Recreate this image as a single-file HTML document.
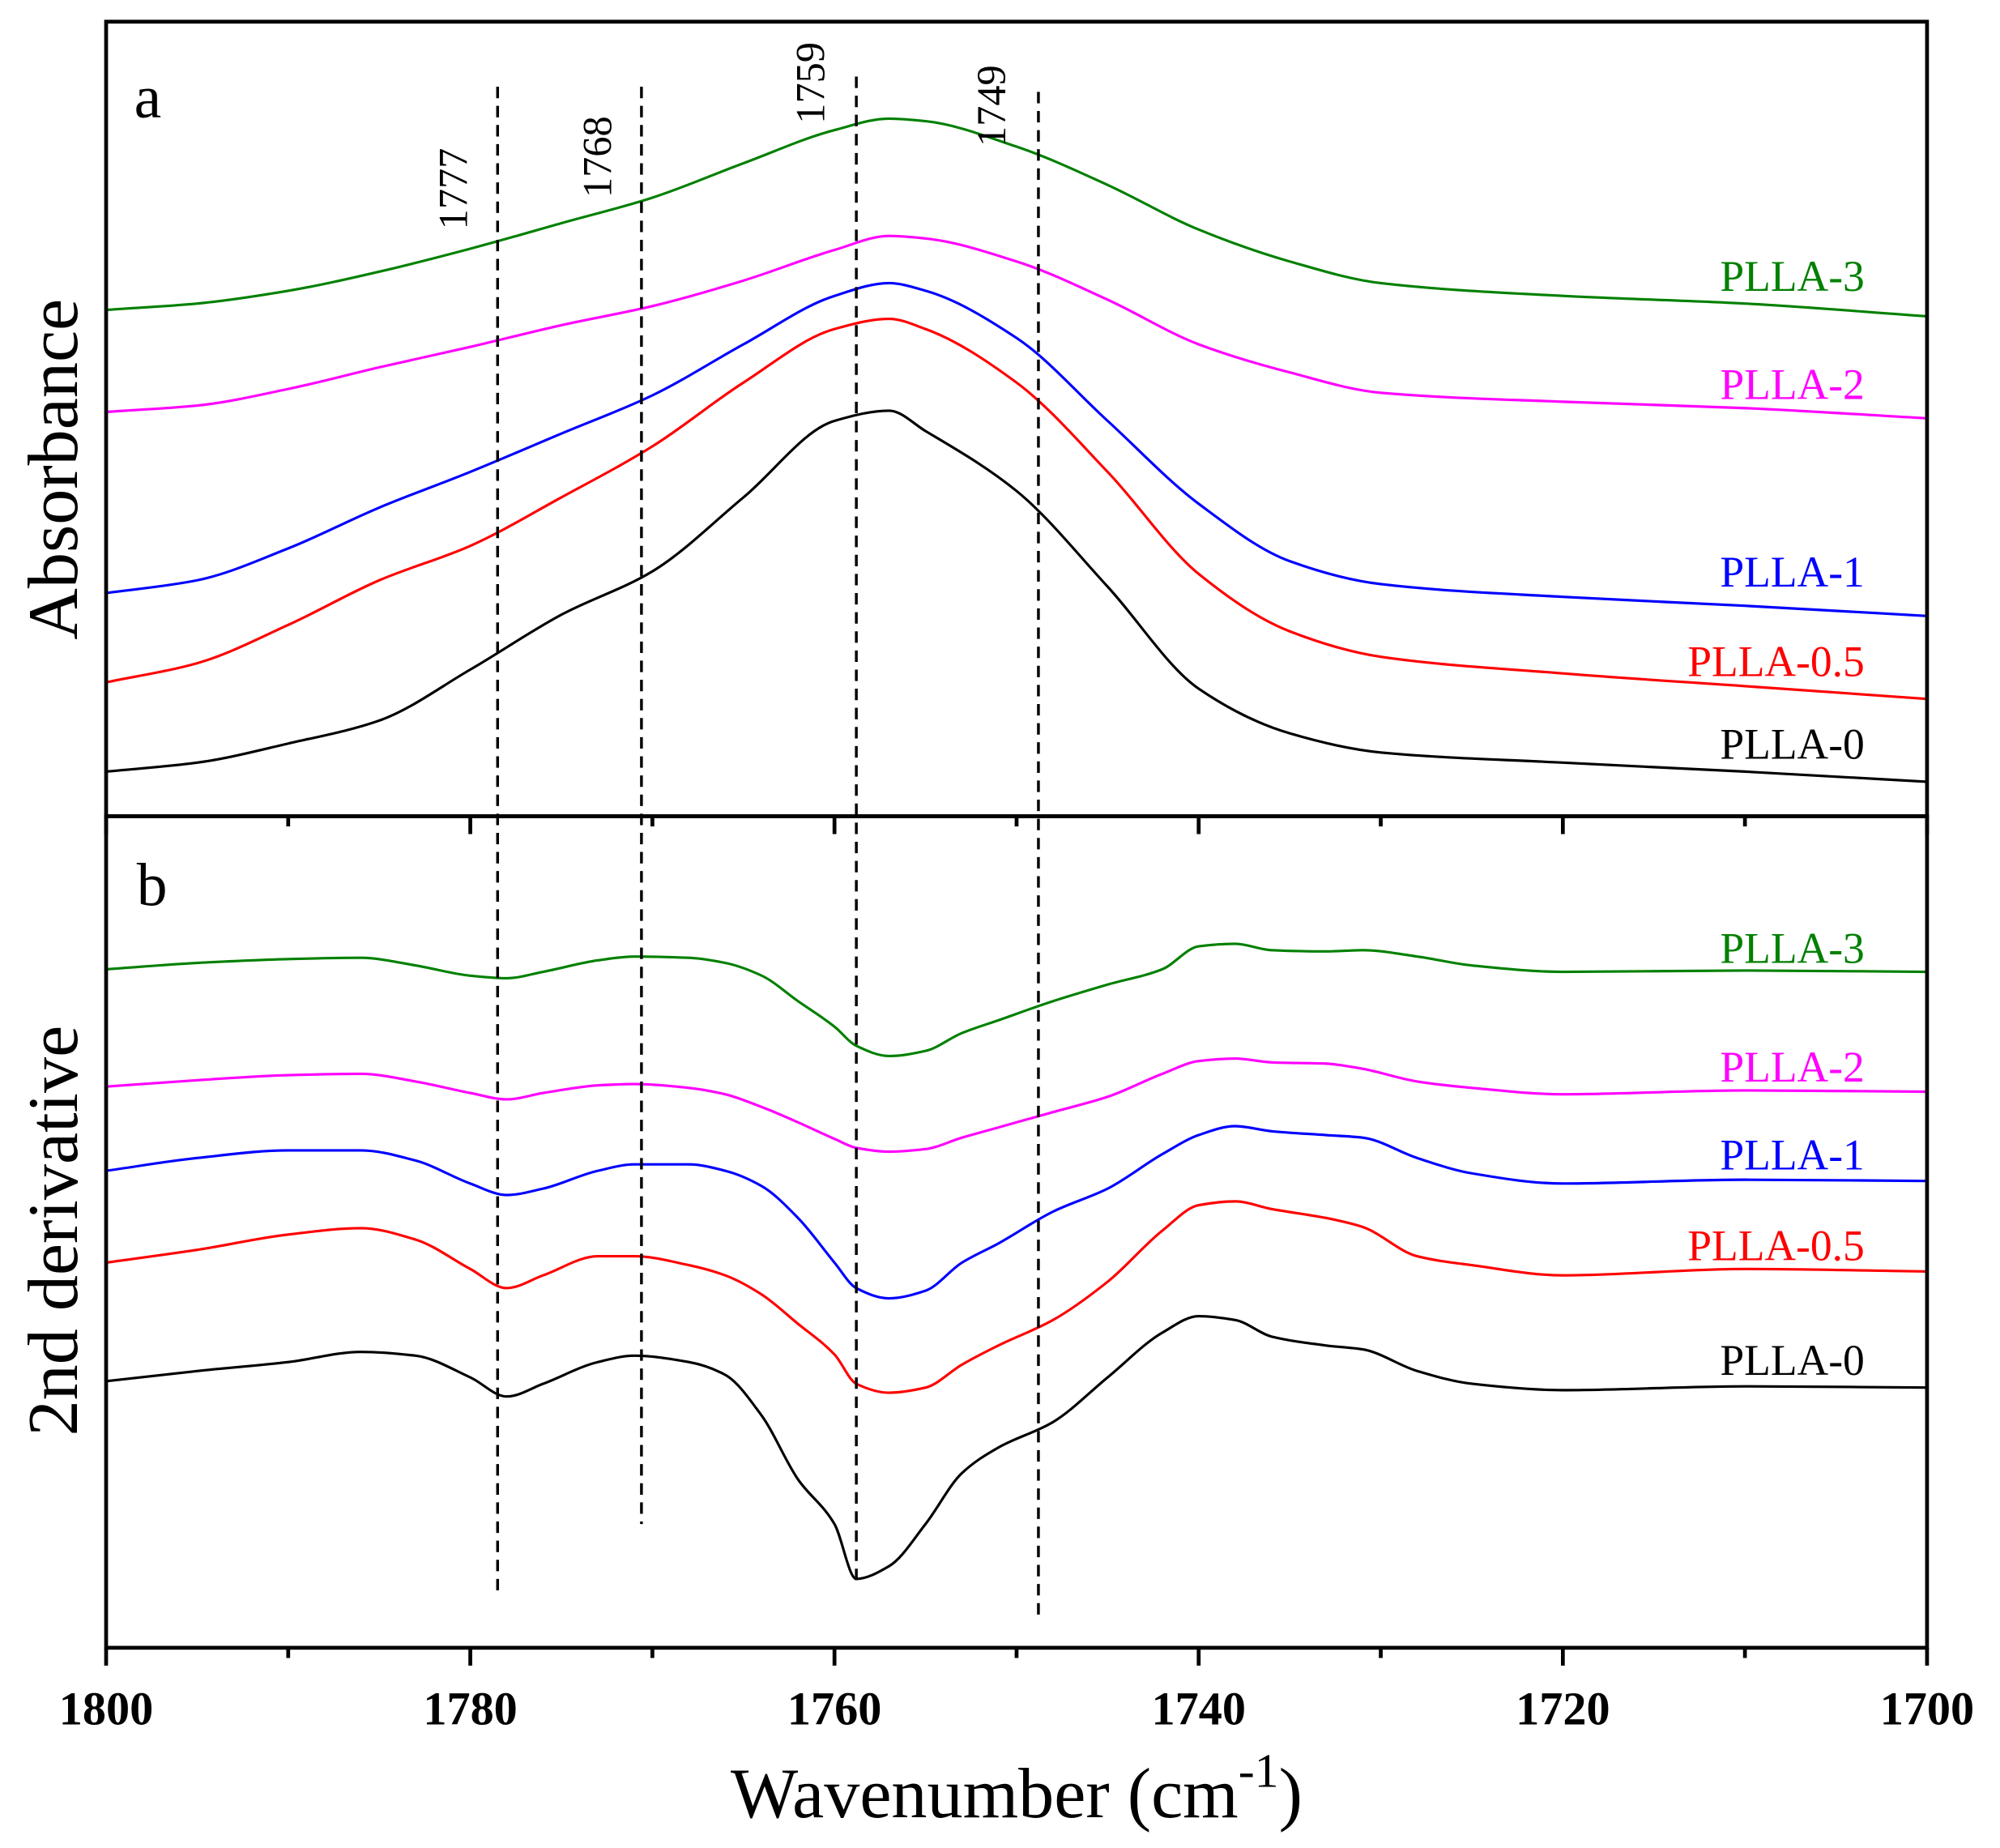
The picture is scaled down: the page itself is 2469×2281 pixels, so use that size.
<!DOCTYPE html>
<html><head><meta charset="utf-8"><style>
html,body{margin:0;padding:0;background:#fff}
svg{display:block}
text{font-family:"Liberation Serif",serif}
</style></head><body>
<svg id="chart" width="2469" height="2281" viewBox="0 0 1568 1449" xmlns="http://www.w3.org/2000/svg">
<rect width="1568" height="1449" fill="#fff"/>
<g id="plot"></g>
</svg>
<script>
// x categories (wavenumber) and series values (arbitrary units)
const seriesNames = ["PLLA-0","PLLA-0.5","PLLA-1","PLLA-2","PLLA-3"];
const seriesColors = ["#000000","#ff0000","#0000ff","#ff00ff","#008000"];
const aWave = [1800,1795,1790,1785,1780,1775,1770,1765,1760,1757,1755,1750,1745,1740,1735,1730,1720,1710,1700];
const aPLLA0  = [35,42,57,75,115,158,192,250,310,318,302,255,180,100,65,50,42,35,27];
const aPLLA05 = [105,120,150,185,212,250,290,340,382,390,382,340,270,190,145,125,112,102,92];
const aPLLA1  = [175,185,210,242,270,300,330,370,408,418,412,375,310,245,200,182,172,165,157];
const aPLLA2  = [317,322,335,352,368,385,400,420,444,455,453,435,405,370,348,332,325,320,312];
const aPLLA3  = [397,402,412,427,445,465,485,512,538,547,545,525,495,460,435,418,408,402,392];
const bWave = [1800,1795,1790,1786,1783,1780,1778,1776,1773,1771,1768,1766,1764,1762,1760,1758.8,1757,1755,1753,1751,1748,1745,1742,1740,1738,1736,1733,1731,1728,1725,1720,1710,1700];
const bPLLA0  = [217,225,232,240,237,220,205,215,232,237,232,222,190,140,105,62,72,105,145,165,185,220,255,268,265,252,245,242,225,215,210,213,212];
const bPLLA05 = [310,320,332,337,328,305,290,300,315,315,308,300,285,262,238,215,208,212,230,245,265,295,335,355,358,352,345,338,315,308,300,305,303];
const bPLLA1  = [382,392,398,398,390,372,363,368,382,387,387,382,370,345,310,290,282,288,310,325,350,368,395,410,417,413,410,408,392,380,372,375,374];
const bPLLA2  = [448,453,457,458,452,443,438,443,449,450,447,442,432,420,407,400,397,399,408,416,428,440,458,468,470,467,466,462,452,447,442,445,444];
const bPLLA3  = [540,545,548,549,543,535,533,538,547,550,549,545,535,515,495,480,472,476,490,500,515,528,540,558,560,555,554,555,550,543,538,539,538];
const markWaves = [1778.5,1770.6,1758.8,1748.8];
const markLabels = ["1777","1768","1759","1749"];
const xTicks = [1800,1780,1760,1740,1720,1700];

const NS="http://www.w3.org/2000/svg";
const g=document.getElementById('plot');
const L=83,R=1511,T=17,M=640,B=1292;
const xS=w=>L+(1800-w)*(R-L)/100;
const yA=v=>640-v;
const yB=v=>1300-v;
function el(t,a,p){const e=document.createElementNS(NS,t);for(const k in a)e.setAttribute(k,a[k]);(p||g).appendChild(e);return e;}
// monotone cubic (Fritsch-Carlson)
function smooth(pts){
  const n=pts.length,dx=[],dy=[],m=[],s=[];
  for(let i=0;i<n-1;i++){dx[i]=pts[i+1][0]-pts[i][0];dy[i]=pts[i+1][1]-pts[i][1];s[i]=dy[i]/dx[i];}
  m[0]=s[0];m[n-1]=s[n-2];
  for(let i=1;i<n-1;i++){ if(s[i-1]*s[i]<=0)m[i]=0; else {const w1=2*dx[i]+dx[i-1],w2=dx[i]+2*dx[i-1];m[i]=(w1+w2)/(w1/s[i-1]+w2/s[i]);} }
  let d=`M${pts[0][0].toFixed(1)},${pts[0][1].toFixed(1)}`;
  for(let i=0;i<n-1;i++){const h=dx[i];
    d+=`C${(pts[i][0]+h/3).toFixed(1)},${(pts[i][1]+m[i]*h/3).toFixed(1)} ${(pts[i+1][0]-h/3).toFixed(1)},${(pts[i+1][1]-m[i+1]*h/3).toFixed(1)} ${pts[i+1][0].toFixed(1)},${pts[i+1][1].toFixed(1)}`;}
  return d;}

const aSeries=[aPLLA0,aPLLA05,aPLLA1,aPLLA2,aPLLA3];
const bSeries=[bPLLA0,bPLLA05,bPLLA1,bPLLA2,bPLLA3];
const aLabelY=[595,530,460,313,228];
const bLabelY=[1078,988,917,848,755];
aSeries.forEach((s,i)=>{
  const p=el('path',{d:smooth(s.map((v,j)=>[xS(aWave[j]),yA(v)])),fill:'none',stroke:seriesColors[i],'stroke-width':2});
  
  
  const t=el('text',{x:1462,y:aLabelY[i],'text-anchor':'end','font-size':34,fill:seriesColors[i]});t.textContent=seriesNames[i];
  
  
});
bSeries.forEach((s,i)=>{
  const p=el('path',{d:smooth(s.map((v,j)=>[xS(bWave[j]),yB(v)])),fill:'none',stroke:seriesColors[i],'stroke-width':2});
  
  
  const t=el('text',{x:1462,y:bLabelY[i],'text-anchor':'end','font-size':34,fill:seriesColors[i]});t.textContent=seriesNames[i];
  
  
});
// dashed marker lines
const dashTop=[68,68,60,72],dashBot=[1248,1195,1240,1272];
const lblPos=[[366,180],[479,155],[646,97],[788,115]];
markWaves.forEach((w,i)=>{
  const ln=el('line',{x1:xS(w),x2:xS(w),y1:dashTop[i],y2:dashBot[i],stroke:'#000','stroke-width':2.2,'stroke-dasharray':'9,6'});
  
  
  const t=el('text',{x:lblPos[i][0],y:lblPos[i][1],'font-size':32,transform:`rotate(-90 ${lblPos[i][0]} ${lblPos[i][1]})`});t.textContent=markLabels[i];
  
  
});
// frames
const f1=el('rect',{x:L,y:T,width:R-L,height:M-T,fill:'none',stroke:'#000','stroke-width':3});

const f2=el('rect',{x:L,y:M,width:R-L,height:B-M,fill:'none',stroke:'#000','stroke-width':3});

// ticks
for(let w=1800;w>=1700;w-=10){
  const major=w%20===0;const x=xS(w);
  const t1=el('line',{x1:x,x2:x,y1:B,y2:B+(major?14:8),stroke:'#000','stroke-width':3});
  
  const t2=el('line',{x1:x,x2:x,y1:M,y2:M+(major?14:8),stroke:'#000','stroke-width':3});
  
}
xTicks.forEach(w=>{
  const t=el('text',{x:xS(w),y:1352,'text-anchor':'middle','font-size':37,'font-weight':'bold'});t.textContent=w;
  
});
</script>
<div style="position:absolute;left:0;top:0;width:2469px;height:2281px;pointer-events:none">
<svg width="2469" height="2281" viewBox="0 0 1568 1449" style="position:absolute;left:0;top:0">
<text x="105" y="92" font-size="48" font-family="Liberation Serif, serif">a</text>
<text x="107" y="710" font-size="48" font-family="Liberation Serif, serif">b</text>
<text x="797" y="1425" text-anchor="middle" font-size="56" font-family="Liberation Serif, serif">Wavenumber (cm<tspan font-size="38" dy="-24">-1</tspan><tspan dy="24">)</tspan></text>
<text x="60" y="368" text-anchor="middle" font-size="56" font-family="Liberation Serif, serif" transform="rotate(-90 60 368)">Absorbance</text>
<text x="60" y="965" text-anchor="middle" font-size="56" font-family="Liberation Serif, serif" transform="rotate(-90 60 965)">2nd derivative</text>
</svg>
</div>
</body></html>
